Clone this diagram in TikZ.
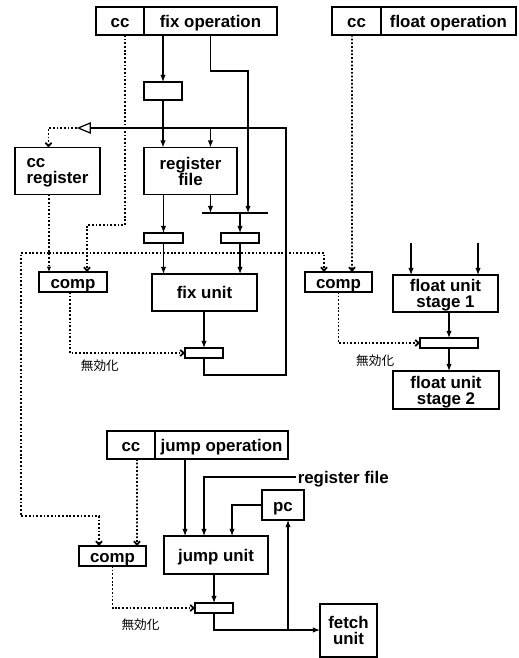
\documentclass[tikz,border=0pt]{standalone}
\usepackage{fontspec}
\setmainfont{Liberation Sans}
\newfontfamily\jpfont{Noto Sans CJK JP}
\usepackage{tikz}
\usetikzlibrary{arrows.meta,positioning,calc,shapes.geometric}

\tikzstyle{box} = [rectangle, draw, line width=0.8pt, inner sep=0pt, outer sep=0pt,
    font=\fontsize{9.6}{9}\selectfont\bfseries]
\tikzstyle{unit} = [box, text height=7.8pt, text depth=0.8pt]
\tikzstyle{unit2} = [box, align=center, text depth=0pt]
\tikzstyle{latch} = [rectangle, draw, line width=0.7pt, inner sep=0pt, outer sep=0pt,
    minimum width=0.76cm, minimum height=0.2cm]
\tikzstyle{wire} = [line width=0.6pt]
\tikzstyle{arrow} = [-{Latex[length=4pt,width=3pt]}, line width=0.6pt]
\tikzstyle{ctrl} = [line width=1pt, dash pattern=on 1pt off 1.1pt]
\tikzstyle{ctrlin} = [ctrl, -{Straight Barb[length=2pt,width=3.5pt]}]
\tikzstyle{kill} = [font=\jpfont\fontsize{7.2}{8}\selectfont]

\begin{document}
\begin{tikzpicture}[x=0.02cm, y=-0.02cm]
\useasboundingbox (0,0) rectangle (519,658);

% instruction words
\node[unit, minimum width=0.96cm, minimum height=0.56cm] (fixcc) at (120,21) {cc};
\node[unit, minimum width=2.66cm, minimum height=0.56cm, right=0pt of fixcc] (fixop) {fix operation};
\node[unit, minimum width=0.98cm, minimum height=0.56cm] (fltcc) at (356.5,21) {cc};
\node[unit, minimum width=2.70cm, minimum height=0.56cm, right=0pt of fltcc] (fltop) {float operation};
\node[unit, minimum width=0.96cm, minimum height=0.56cm] (jcc) at (131,445) {cc};
\node[unit, minimum width=2.66cm, minimum height=0.56cm, right=0pt of jcc] (jop) {jump operation};

% fix pipeline
\node[latch, minimum height=0.36cm] (latchA) at (163,91) {};
\node[draw, isosceles triangle, shape border rotate=180, isosceles triangle stretches,
    minimum width=0.2cm, minimum height=0.24cm, inner sep=0pt, line width=0.7pt] (buf) at (87,128) {};
\node[unit2, minimum width=1.70cm, minimum height=0.94cm, align=left] (ccreg) at (57.5,171) {cc\\register};
\node[unit2, minimum width=1.86cm, minimum height=0.94cm] (regfile) at (190.5,171) {register\\file};
\node[latch, minimum width=0.78cm] (latchB) at (163.5,238) {};
\node[latch] (latchC) at (240,238) {};
\node[unit, minimum width=2.10cm, minimum height=0.74cm] (fixunit) at (204.5,292.5) {fix unit};
\node[unit, minimum width=1.36cm, minimum height=0.40cm] (fixcomp) at (73,282) {comp};
\node[latch] (latchD) at (204,353) {};
\coordinate (busL) at (202,213);
\coordinate (busR) at (268,213);
\coordinate (busin) at (248,213);
\coordinate (fbR) at (286,128);
\coordinate (ccbus) at (49,253);
\coordinate (ccleft) at (21,516);

% float pipeline
\node[unit, minimum width=1.34cm, minimum height=0.40cm] (fltcomp) at (338.5,282) {comp};
\node[unit2, minimum width=2.10cm, minimum height=0.74cm] (fs1) at (445.5,293.5) {float unit\\stage 1};
\node[latch, minimum width=1.16cm] (latchE) at (449,343) {};
\node[unit2, minimum width=2.12cm, minimum height=0.76cm] (fs2) at (446,390) {float unit\\stage 2};
\coordinate (fin1) at (411,243);
\coordinate (fin2) at (478,243);

% jump pipeline
\node[unit, minimum width=1.34cm, minimum height=0.40cm] (jcomp) at (112.5,556) {comp};
\node[unit, minimum width=2.08cm, minimum height=0.76cm] (junit) at (216,555) {jump unit};
\node[unit, minimum width=0.84cm, minimum height=0.60cm] (pc) at (283,505) {pc};
\node[unit, draw=none, anchor=west, inner sep=1pt] (rftext) at (296,477) {register file};
\node[latch] (latchF) at (214,608) {};
\node[unit2, minimum width=1.14cm, minimum height=1.06cm] (fetch) at (348.5,630.5) {fetch\\unit};
\coordinate (jinop) at (185,536);
\coordinate (jinrf) at (204,536);
\coordinate (jinpc) at (232,536);
\coordinate (pcbr) at (288,630);

% data paths
\draw[arrow] (fixop.south -| latchA) -- (latchA.north);
\draw[arrow] (latchA.south) -- (latchA.south |- regfile.north);
\draw[arrow] (fixop.south) -- ++(0,36) -| (busin);
\draw[wire] (latchD.south) -- ++(0,17) -| (fbR) -- (buf);
\draw[arrow] (fixop.south |- fbR) -- (fixop.south |- regfile.north);
\draw[wire] (busL) -- (busR);
\draw[arrow] (regfile.south -| latchB) -- (latchB.north);
\draw[arrow] (fixop.south |- regfile.south) -- (fixop.south |- busL);
\draw[arrow] (latchC.north |- busL) -- (latchC.north);
\draw[arrow] (latchB.south) -- (latchB.south |- fixunit.north);
\draw[arrow] (latchC.south) -- (latchC.south |- fixunit.north);
\draw[arrow] (fixunit.south -| latchD) -- (latchD.north);

\draw[arrow] (fin1) -- (fin1 |- fs1.north);
\draw[arrow] (fin2) -- (fin2 |- fs1.north);
\draw[arrow] (latchE.north |- fs1.south) -- (latchE.north);
\draw[arrow] (latchE.south) -- (latchE.south |- fs2.north);

\draw[arrow] (jop.south -| jinop) -- (jinop);
\draw[arrow] (rftext.west) -| (jinrf);
\draw[arrow] (pc.west) -| (jinpc);
\draw[arrow] (junit.south -| latchF) -- (latchF.north);
\draw[arrow] (latchF.south) |- (pcbr) -- (fetch.west |- pcbr);
\draw[arrow] (pcbr) -- (pcbr |- pc.south);

% condition code paths
\draw[ctrlin] (buf.apex) -| ([xshift=-0.18cm]ccreg.north);
\draw[ctrlin] ([xshift=0.1cm]fixcc.south) -- ++(0,190) -| ([xshift=0.28cm]fixcomp.north);
\draw[ctrl, -{Latex[length=3pt,width=2.5pt]}] (ccreg.south -| ccbus) -- (ccbus |- fixcomp.north);
\draw[ctrlin] (ccbus) -| ([xshift=-0.29cm]fltcomp.north);
\draw[ctrlin] (ccbus) -| (ccleft) -| ([xshift=-0.27cm]jcomp.north);
\draw[ctrlin] ([xshift=-0.09cm]fltcc.south) -- ([xshift=0.27cm]fltcomp.north);
\draw[ctrlin] ([xshift=0.12cm]jcc.south) -- ([xshift=0.49cm]jcomp.north);

\draw[ctrlin] ([xshift=-0.06cm]fixcomp.south) |- node[kill, pos=0.63, below=0pt] (kill1) {無効化} (latchD.west);
\draw[ctrlin] (fltcomp.south) |- node[kill, pos=0.725, below=0.1cm] (kill2) {無効化} (latchE.west);
\draw[ctrlin] (jcomp.south) |- node[kill, pos=0.67, below=0.08cm] (kill3) {無効化} (latchF.west);
\end{tikzpicture}
\end{document}
